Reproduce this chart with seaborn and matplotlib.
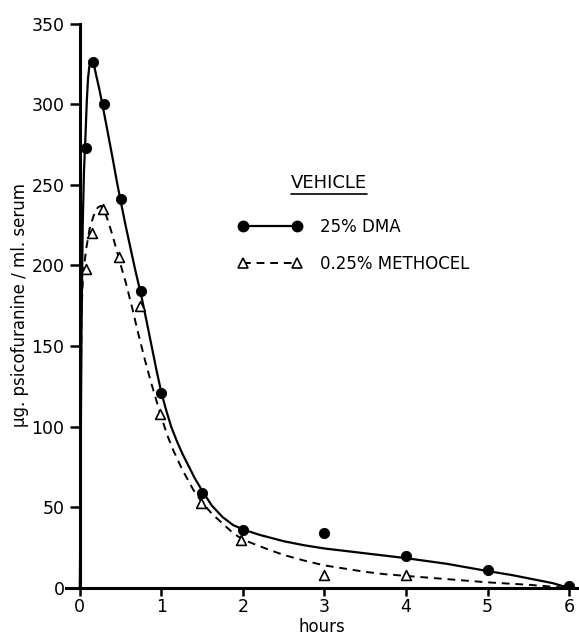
import numpy as np
import pandas as pd
import matplotlib
matplotlib.use('Agg')
import matplotlib.pyplot as plt
import seaborn as sns
from matplotlib.lines import Line2D

# measured points (hours, ug/ml)
dma_t = [0.08, 0.16, 0.29, 0.50, 0.75, 1.0, 1.5, 2.0, 3.0, 4.0, 5.0, 6.0]
dma_y = [273, 326, 300, 241, 184, 121, 59, 36, 34, 20, 11, 1]
meth_t = [0.08, 0.15, 0.28, 0.48, 0.74, 0.98, 1.48, 1.98, 3.0, 4.0]
meth_y = [198, 220, 235, 205, 175, 108, 53, 30, 8, 8]

# hand-drawn curves
dma_curve_t = [0, 0.01, 0.02, 0.035, 0.05, 0.07, 0.085, 0.10, 0.115, 0.13, 0.15, 0.17, 0.20,
               0.24, 0.28, 0.34, 0.40, 0.45, 0.50, 0.56, 0.62, 0.68, 0.75, 0.82, 0.88, 0.94,
               1.0, 1.06, 1.12, 1.19, 1.26, 1.33, 1.41, 1.51, 1.62, 1.75, 1.88, 2.02, 2.2, 2.5,
               2.75, 3.0, 3.5, 4.0, 4.5, 5.0, 5.3, 5.6, 5.8, 6.0]
dma_curve_y = [0, 80, 160, 225, 258, 282, 302, 316, 323, 326, 327, 325, 318,
               309, 299, 283, 267, 253, 240, 225, 211, 197, 182, 165, 150, 135,
               121, 110, 100, 91, 83, 76, 68, 59.5, 51, 44, 39, 36, 33, 29,
               26.5, 24.5, 21.5, 18.5, 15, 10.5, 8, 5, 3, 0]
meth_curve_t = [0, 0.01, 0.02, 0.035, 0.05, 0.08, 0.12, 0.17, 0.22, 0.26, 0.30, 0.35, 0.41,
                0.48, 0.56, 0.64, 0.72, 0.80, 0.87, 0.94, 1.0, 1.07, 1.14, 1.25, 1.39, 1.5,
                1.62, 1.75, 1.88, 2.0, 2.15, 2.33, 2.5, 2.75, 3.0, 3.25, 3.5, 3.75, 4.0,
                4.5, 5.0, 5.5, 6.0]
meth_curve_y = [0, 100, 170, 190, 199, 211, 223, 231, 236, 237, 234, 227, 217,
                204, 190, 174, 157, 141, 128, 116, 106, 95, 86, 74, 61, 53,
                46, 40, 34, 30, 27, 23.5, 20.5, 17, 14, 12, 10, 8.5, 7.5,
                5.5, 3.5, 2, 0]

x_ticks = [0, 1, 2, 3, 4, 5, 6]
y_ticks = [0, 50, 100, 150, 200, 250, 300, 350]
legend_labels = ['25% DMA', '0.25% METHOCEL']

sns.set_style('ticks')
plt.rcParams['font.family'] = ['DejaVu Sans']
plt.rcParams['text.color'] = 'black'
plt.rcParams['axes.labelcolor'] = 'black'

fig = plt.figure(figsize=(5.79, 6.41), dpi=100)
ax = fig.add_axes([0.114, 0.0827, 0.883, 0.883])

df_dc = pd.DataFrame({'t': dma_curve_t, 'y': dma_curve_y})
df_mc = pd.DataFrame({'t': meth_curve_t, 'y': meth_curve_y})
df_dp = pd.DataFrame({'t': dma_t, 'y': dma_y})
df_mp = pd.DataFrame({'t': meth_t, 'y': meth_y})

sns.lineplot(data=df_dc, x='t', y='y', ax=ax, color='black', lw=1.6, estimator=None, sort=False)
sns.lineplot(data=df_mc, x='t', y='y', ax=ax, color='black', lw=1.4, estimator=None, sort=False,
             linestyle=(0, (4, 3)))
sns.scatterplot(data=df_dp, x='t', y='y', ax=ax, color='black', marker='o', s=55,
                edgecolor='black', zorder=5)
sns.scatterplot(data=df_mp, x='t', y='y', ax=ax, color='white', marker='^', s=50,
                edgecolor='black', linewidth=1.2, zorder=5)

ax.set_xlim(-0.17, 6.1)
ax.set_ylim(0, 351)
ax.spines['left'].set_position(('data', 0))
ax.spines['left'].set_bounds(0, 350)
ax.spines['top'].set_visible(False)
ax.spines['right'].set_visible(False)
for s in ['left', 'bottom']:
    ax.spines[s].set_linewidth(2.2)
    ax.spines[s].set_color('black')
ax.set_xticks(x_ticks)
ax.set_yticks(y_ticks)
ax.tick_params(axis='y', direction='out', length=7, width=1.8, colors='black',
               labelsize=12.5, pad=4)
ax.tick_params(axis='x', direction='out', length=6, width=1.8, colors='black',
               labelsize=12.5, pad=1)
ax.set_xlabel('hours', fontsize=12, labelpad=2)
ax.set_ylabel('\u03bcg. psicofuranine / ml. serum', fontsize=12)
ax.yaxis.set_label_coords(-0.072, 0.5)

handles = [Line2D([], [], color='black', lw=1.6, marker='o', ms=7.5),
           Line2D([], [], color='black', lw=1.4, linestyle=(0, (4, 3)), marker='^', ms=7,
                  mfc='white', mec='black', mew=1.2)]
ax.legend(handles, legend_labels, loc='upper left', bbox_to_anchor=(0.337, 0.654),
          frameon=False, numpoints=2, handlelength=3.8, handletextpad=1.1,
          labelspacing=1.15, borderpad=0, borderaxespad=0, fontsize=12)

title = ax.text(0.515, 0.716, 'VEHICLE', transform=ax.transAxes, ha='center', va='center',
                fontsize=13)
fig.canvas.draw()
bb = title.get_window_extent().transformed(fig.transFigure.inverted())
fig.add_artist(Line2D([bb.x0, bb.x1], [bb.y0 - 0.003, bb.y0 - 0.003], color='black', lw=1.2,
                      transform=fig.transFigure))

fig.savefig('out.png', dpi=100)
